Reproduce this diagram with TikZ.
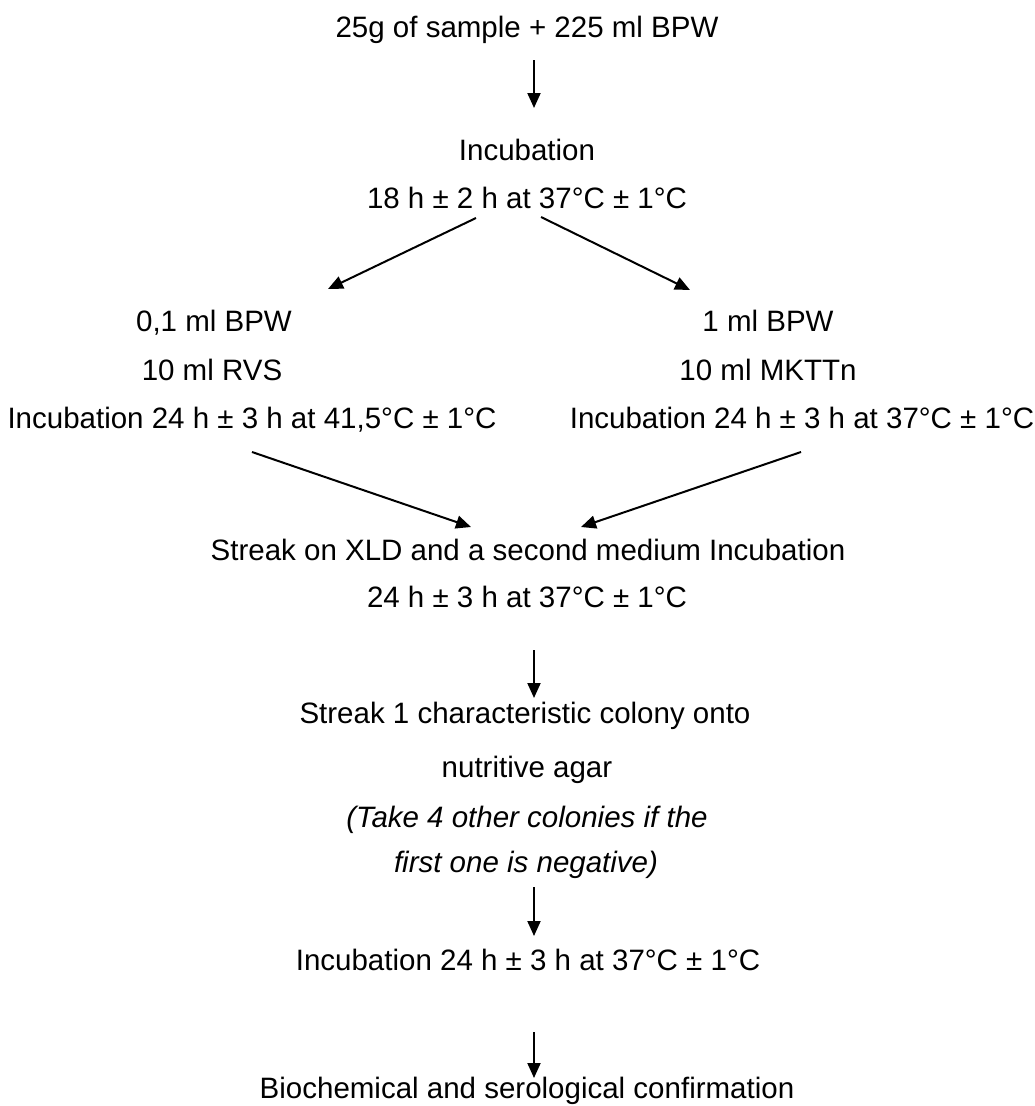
\documentclass[tikz,border=0pt]{standalone}
\usepackage{fontspec}
\setmainfont{Liberation Sans}
\usetikzlibrary{arrows.meta}

\tikzset{
  txt/.style={anchor=base, inner sep=0pt, font=\fontsize{29.5}{35}\selectfont},
  flow/.style={line width=2pt, -{Triangle[length=15pt,width=13pt]}},
}

\begin{document}
\begin{tikzpicture}[x=1pt,y=-1pt]
\useasboundingbox (0,0) rectangle (1035,1106);
%top part
\node[txt] (sample) at (527,37) {25g of sample + 225 ml BPW};
\node[txt] (inc) at (527,160) {Incubation};
\node[txt] (inctime) at (527,208) {18 h ± 2 h at 37°C ± 1°C};
%left branch
\node[txt] (rvsa) at (214,331) {0,1 ml BPW};
\node[txt] (rvsb) at (212,380) {10 ml RVS};
\node[txt] (rvsc) at (252,428) {Incubation 24 h ± 3 h at 41,5°C ± 1°C};
%right branch
\node[txt] (mkta) at (768,331) {1 ml BPW};
\node[txt] (mktb) at (768,380) {10 ml MKTTn};
\node[txt] (mktc) at (802,428) {Incubation 24 h ± 3 h at 37°C ± 1°C};
%streak
\node[txt] (xld) at (528,560) {Streak on XLD and a second medium Incubation};
\node[txt] (xldtime) at (527,607) {24 h ± 3 h at 37°C ± 1°C};
\node[txt] (cola) at (525,723) {Streak 1 characteristic colony onto};
\node[txt] (colb) at (527,777) {nutritive agar};
\node[txt,font=\fontsize{29.5}{35}\selectfont\itshape] (colc) at (527,827) {(Take 4 other colonies if the};
\node[txt,font=\fontsize{29.5}{35}\selectfont\itshape] (cold) at (526,872) {first one is negative)};
%bottom part
\node[txt] (agar) at (528,970) {Incubation 24 h ± 3 h at 37°C ± 1°C};
\node[txt] (confirm) at (527,1098) {Biochemical and serological confirmation};

%arrows
\draw[flow] ([xshift=7pt,yshift=-23pt]sample.base) -- ([xshift=7pt,yshift=52pt]inc.base);
\draw[flow] ([xshift=-51pt,yshift=-10pt]inctime.base) -- ([xshift=114pt,yshift=42pt]rvsa.base);
\draw[flow] ([xshift=14pt,yshift=-9pt]inctime.base) -- ([xshift=-78pt,yshift=41pt]mkta.base);
\draw[flow] ([yshift=-24pt]rvsc.base) -- ([xshift=-57pt,yshift=33pt]xld.base);
\draw[flow] ([xshift=-1pt,yshift=-24pt]mktc.base) -- ([xshift=53pt,yshift=33pt]xld.base);
\draw[flow] ([xshift=7pt,yshift=-43pt]xldtime.base) -- ([xshift=9pt,yshift=25pt]cola.base);
\draw[flow] ([xshift=8pt,yshift=-15pt]cold.base) -- ([xshift=6pt,yshift=34pt]agar.base);
\draw[flow] ([xshift=6pt,yshift=-62pt]agar.base) -- ([xshift=7pt,yshift=20pt]confirm.base);
\end{tikzpicture}
\end{document}
